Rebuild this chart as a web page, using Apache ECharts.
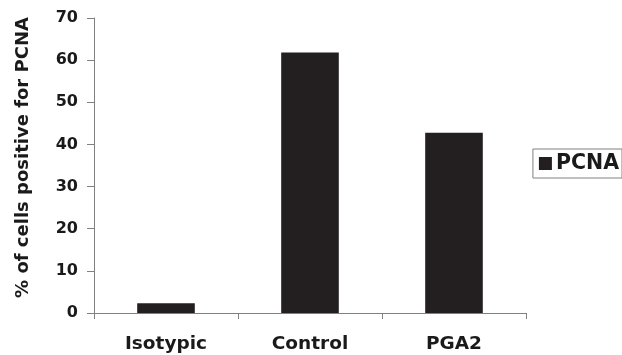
<!DOCTYPE html>
<html>
<head>
<meta charset="utf-8">
<script src="https://cdn.jsdelivr.net/npm/echarts@6/dist/echarts.min.js"></script>
<style>
  html, body { margin: 0; padding: 0; background: #fff; }
  #chart { width: 622px; height: 355px; }
</style>
</head>
<body>
<div id="chart"></div>
<script>
// Share of PCNA-positive cells per treatment group
const categories = ['Isotypic', 'Control', 'PGA2'];
const pcnaValues = [2.3, 61.8, 42.8];
const seriesName = 'PCNA';
const yTitle = '% of cells positive for PCNA';
const yMin = 0, yMax = 70, yStep = 10;

const FONT = '"DejaVu Sans", "Liberation Sans", Arial, sans-serif';
const TEXT = '#1a1a1a';
const AXIS = '#808080';
const BAR = '#231f20';

const chart = echarts.init(document.getElementById('chart'), null, { renderer: 'canvas' });
chart.setOption({
  animation: false,
  backgroundColor: '#ffffff',
  grid: { left: 94, right: 96, top: 18, bottom: 42, containLabel: false },
  legend: {
    data: [seriesName],
    right: 0,
    top: 149,
    orient: 'vertical',
    borderColor: AXIS,
    borderWidth: 1,
    padding: [4, 3, 4, 6],
    itemWidth: 13,
    itemHeight: 13,
    itemGap: 0,
    icon: 'rect',
    textStyle: { fontFamily: FONT, fontWeight: 'bold', fontSize: 20.5, color: TEXT, padding: [0, 0, 0, -1] }
  },
  xAxis: {
    type: 'category',
    data: categories,
    axisLine: { lineStyle: { color: AXIS, width: 1 } },
    axisTick: { show: true, length: 6, lineStyle: { color: AXIS } },
    axisLabel: { fontFamily: FONT, fontWeight: 'bold', fontSize: 18.5, color: TEXT, margin: 22 }
  },
  yAxis: {
    type: 'value',
    min: yMin,
    max: yMax,
    interval: yStep,
    name: yTitle,
    nameLocation: 'middle',
    nameGap: 62,
    nameRotate: 90,
    nameTextStyle: { fontFamily: FONT, fontWeight: 'bold', fontSize: 18, color: TEXT, padding: [0, 0, 0, 16] },
    axisLine: { show: true, lineStyle: { color: AXIS, width: 1 } },
    axisTick: { show: true, length: 7, lineStyle: { color: AXIS } },
    splitLine: { show: false },
    axisLabel: { fontFamily: FONT, fontWeight: 'bold', fontSize: 16, color: TEXT, margin: 16 }
  },
  series: [{
    name: seriesName,
    type: 'bar',
    data: pcnaValues,
    barWidth: '40%',
    itemStyle: { color: BAR }
  }]
});
</script>
</body>
</html>
